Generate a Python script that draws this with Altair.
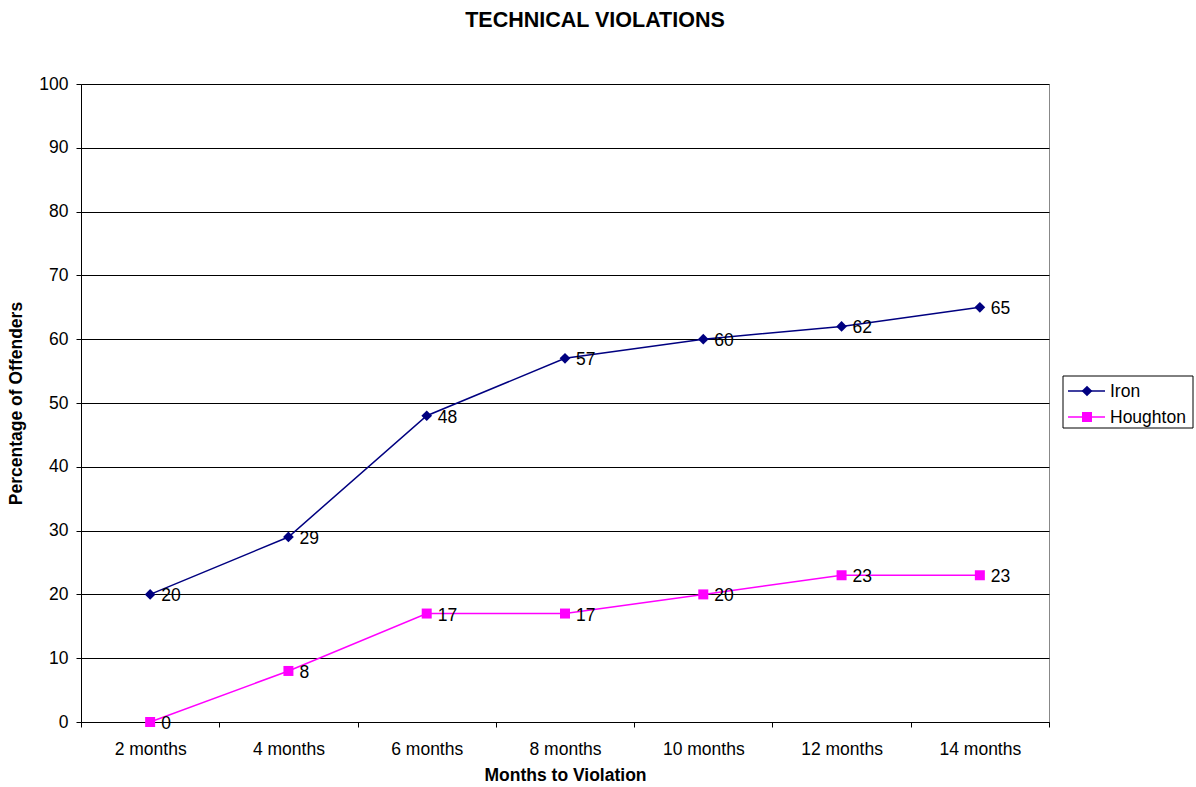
import altair as alt
import pandas as pd

months = ["2 months", "4 months", "6 months", "8 months", "10 months", "12 months", "14 months"]
iron = [20, 29, 48, 57, 60, 62, 65]
houghton = [0, 8, 17, 17, 20, 23, 23]
series = ["Iron", "Houghton"]
colors = ["#000080", "#FF00FF"]
shapes = ["diamond", "square"]
sizes = [115, 100]

rows = []
for m, a, b in zip(months, iron, houghton):
    rows.append({"month": m, "series": "Iron", "value": a})
    rows.append({"month": m, "series": "Houghton", "value": b})
df = pd.DataFrame(rows)

FONT = "Liberation Sans"
FS = 17.5
W, H = 968, 638

x = alt.X("month:N", sort=months, title="Months to Violation",
          scale=alt.Scale(paddingInner=0, paddingOuter=0),
          axis=alt.Axis(labelAngle=0, tickBand="extent", grid=False, domainColor="black",
                        tickColor="black", tickSize=5, labelFontSize=FS, labelFont=FONT,
                        labelColor="black", labelPadding=13, titleFontSize=FS, titleFont=FONT,
                        titleFontWeight="bold", titleColor="black", titlePadding=9))
y = alt.Y("value:Q", title="Percentage of Offenders",
          scale=alt.Scale(domain=[0, 100], nice=False),
          axis=alt.Axis(values=list(range(0, 101, 10)), grid=True, gridColor="black",
                        gridOpacity=1, domainColor="black", tickColor="black", tickSize=5,
                        labelFontSize=FS, labelFont=FONT, labelColor="black", labelPadding=8,
                        titleFontSize=FS, titleFont=FONT, titleFontWeight="bold",
                        titleColor="black", titlePadding=13))
color = alt.Color("series:N", scale=alt.Scale(domain=series, range=colors), legend=None)

base = alt.Chart(df).encode(x=x, y=y, detail="series:N")
lines = base.mark_line(strokeWidth=1.5).encode(color=color)
points = base.mark_point(filled=True, opacity=1).encode(
    color=color,
    shape=alt.Shape("series:N", scale=alt.Scale(domain=series, range=shapes), legend=None),
    size=alt.Size("series:N", scale=alt.Scale(domain=series, range=sizes), legend=None))
labels = base.mark_text(align="left", baseline="middle", dx=11, dy=2, fontSize=FS,
                        font=FONT).encode(text="value:Q", color=alt.value("black"))

title_df = pd.DataFrame({"t": ["TECHNICAL VIOLATIONS"]})
title = alt.Chart(title_df).mark_text(fontSize=21.5, font=FONT, fontWeight="bold",
                                      color="black", align="center", baseline="middle").encode(
    text="t:N", x=alt.value(514), y=alt.value(-63))

# legend
box = alt.Chart(title_df).mark_rect(fill="white", stroke="black", strokeWidth=1).encode(
    x=alt.value(982), x2=alt.value(1112), y=alt.value(292), y2=alt.value(344))
leg_layers = [box]
leg_y = [307, 333]
for s, c, sh, sz, yy in zip(series, colors, shapes, sizes, leg_y):
    ldf = pd.DataFrame({"t": [s]})
    leg_layers.append(alt.Chart(ldf).mark_rule(color=c, strokeWidth=1.5).encode(
        x=alt.value(987), x2=alt.value(1024), y=alt.value(yy)))
    leg_layers.append(alt.Chart(ldf).mark_point(filled=True, opacity=1, color=c, shape=sh,
                                                size=sz).encode(
        x=alt.value(1006), y=alt.value(yy)))
    leg_layers.append(alt.Chart(ldf).mark_text(align="left", baseline="middle", fontSize=FS,
                                               font=FONT, color="black").encode(
        text="t:N", x=alt.value(1029), y=alt.value(yy + 1)))

chart = alt.layer(lines, points, labels, title, *leg_layers).properties(
    width=W, height=H,
    autosize=alt.AutoSizeParams(type="none"),
    padding={"left": 81, "top": 84, "right": 147, "bottom": 65},
    background="white",
).configure_view(stroke="#888888", strokeWidth=1)

chart.save("out.html", embed_options={"renderer": "svg", "actions": False})
